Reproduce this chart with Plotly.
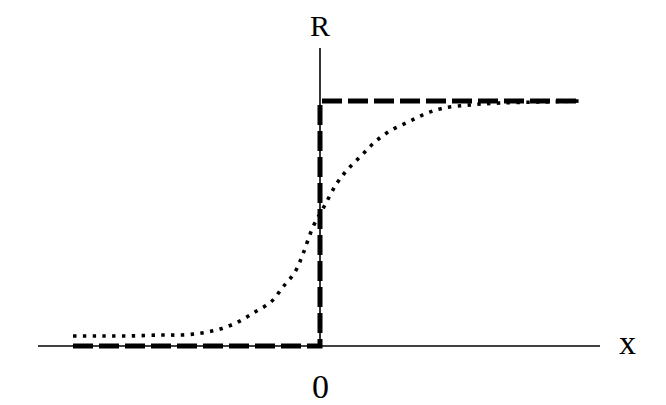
import plotly.graph_objects as go

# Step response (dashed)
step_x = [-4.94, 0.0, 0.0, 5.2]
step_y = [0.0, 0.0, 1.0, 1.0]

# Smooth response (dotted)
smooth_x = [-4.94, -4.4, -3.8, -3.2, -2.76, -2.36, -2.0, -1.64, -1.3, -0.98, -0.74,
            -0.5, -0.34, -0.14, 0.1, 0.34, 0.56, 0.84, 1.1, 1.4, 1.76, 2.1, 2.46,
            3.0, 3.6, 4.4, 5.2]
smooth_y = [0.041, 0.041, 0.041, 0.045, 0.045, 0.053, 0.069, 0.098, 0.139, 0.180, 0.241,
            0.302, 0.376, 0.486, 0.576, 0.665, 0.722, 0.780, 0.833, 0.878, 0.914, 0.947, 0.971,
            0.984, 0.992, 0.996, 1.0]

axis_x_range = [-5.64, 5.6]
axis_y_top = 1.216

FONT = "Liberation Serif, Times New Roman, serif"

fig = go.Figure()
fig.add_trace(go.Scatter(x=smooth_x, y=smooth_y, mode="lines", line_shape="spline",
                         line=dict(color="black", width=3.6, dash="3.4px,6.4px"),
                         showlegend=False, hoverinfo="skip"))
fig.add_trace(go.Scatter(x=step_x, y=step_y, mode="lines",
                         line=dict(color="black", width=5, dash="20px,6px"),
                         showlegend=False, hoverinfo="skip"))

# axes
fig.add_shape(type="line", x0=axis_x_range[0], x1=axis_x_range[1], y0=0, y1=0,
              line=dict(color="black", width=1.6), layer="below")
fig.add_shape(type="line", x0=0, x1=0, y0=0, y1=axis_y_top,
              line=dict(color="black", width=1.6), layer="below")

fig.add_annotation(x=0, y=1.0, yref="paper", yanchor="top", borderpad=0,
                   text="R", showarrow=False,
                   font=dict(family=FONT, size=30, color="black"))
fig.add_annotation(x=6.14, y=0.016, text="x", showarrow=False,
                   font=dict(family=FONT, size=34, color="black"))
fig.add_annotation(x=0, y=-0.167, text="0", showarrow=False,
                   font=dict(family=FONT, size=34, color="black"))

fig.update_layout(
    width=666, height=405,
    margin=dict(l=0, r=0, t=0, b=0),
    paper_bgcolor="white", plot_bgcolor="white",
    xaxis=dict(range=[-6.24, 7.08], visible=False, fixedrange=True),
    yaxis=dict(range=[-0.2735, 1.3796], visible=False, fixedrange=True),
)

fig.write_html("out.html")
